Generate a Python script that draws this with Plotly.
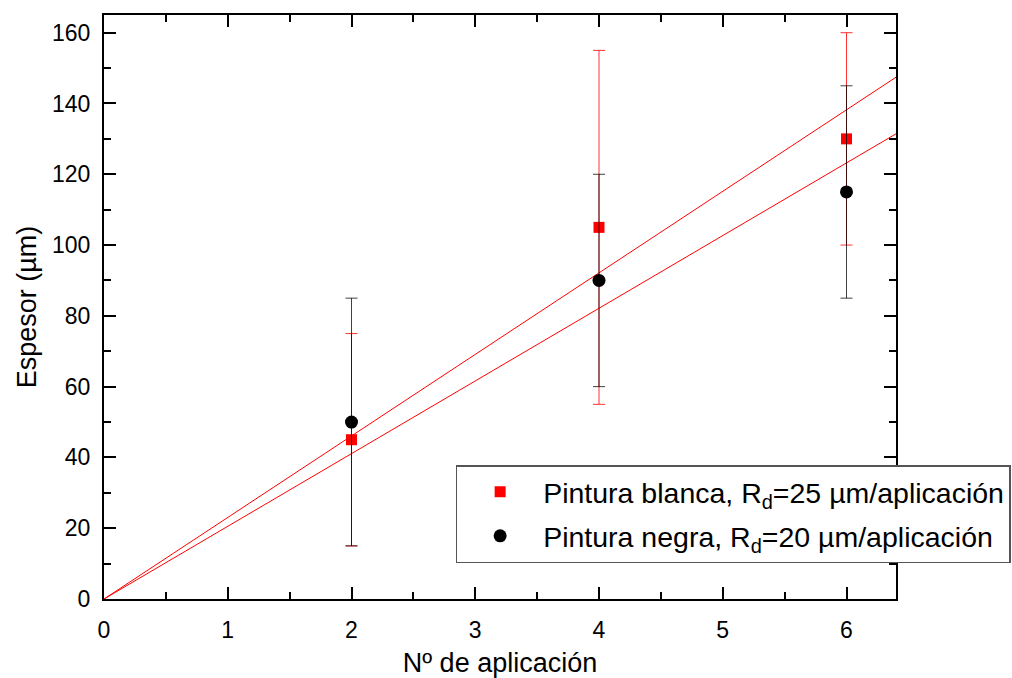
import numpy as np
import plotly.graph_objects as go

aplicaciones = [2, 4, 6]
blanca = [45, 105, 130]
blanca_err = [30, 50, 30]
negra = [50, 90, 115]
negra_err = [35, 30, 30]
x_max = 6.4

xa = np.array(aplicaciones, dtype=float)
def fit_origin(y):
    y = np.array(y, dtype=float)
    return float((xa * y).sum() / (xa * xa).sum())

k_b = fit_origin(blanca)
k_n = fit_origin(negra)
xl = np.array([0.0, x_max])

FONT = "Liberation Sans, Arial"

fig = go.Figure()
fig.add_trace(go.Scatter(x=xl, y=k_b * xl, mode="lines", line=dict(color="red", width=1),
                         showlegend=False, hoverinfo="skip"))
fig.add_trace(go.Scatter(x=xl, y=k_n * xl, mode="lines", line=dict(color="red", width=1),
                         showlegend=False, hoverinfo="skip"))
fig.add_trace(go.Scatter(
    x=aplicaciones, y=blanca, mode="markers",
    marker=dict(symbol="square", color="red", size=11),
    error_y=dict(type="data", array=blanca_err, color="rgba(255,0,0,0.8)", thickness=1, width=6),
    name="Pintura blanca, R<sub>d</sub>=25 µm/aplicación", legendgroup="b"))
fig.add_trace(go.Scatter(
    x=aplicaciones, y=negra, mode="markers",
    marker=dict(symbol="circle", color="black", size=13),
    error_y=dict(type="data", array=negra_err, color="rgba(0,0,0,0.75)", thickness=1, width=6),
    name="Pintura negra, R<sub>d</sub>=20 µm/aplicación", legendgroup="n"))

axis_common = dict(showline=True, linecolor="black", linewidth=2, mirror="allticks",
                   ticks="inside", ticklen=12, tickwidth=2, tickcolor="black",
                   showgrid=False, zeroline=False,
                   tickfont=dict(family=FONT, size=23, color="black"))

fig.update_xaxes(range=[0, x_max], dtick=1, tick0=0, ticklabelstandoff=9,
                 minor=dict(dtick=0.5, ticks="inside", ticklen=7, tickwidth=2, tickcolor="black"),
                 title=dict(text="Nº de aplicación", standoff=12,
                            font=dict(family=FONT, size=27, color="black")),
                 **axis_common)
fig.update_yaxes(range=[0, 165], dtick=20, tick0=0, ticklabelstandoff=7,
                 minor=dict(dtick=10, ticks="inside", ticklen=7, tickwidth=2, tickcolor="black"),
                 title=dict(text="Espesor (µm)", standoff=8,
                            font=dict(family=FONT, size=27, color="black")),
                 **axis_common)

fig.update_layout(
    width=1012, height=678,
    margin=dict(l=104, r=116, t=15, b=79, autoexpand=False),
    plot_bgcolor="white", paper_bgcolor="white",
    font=dict(family=FONT, color="black"),
    legend=dict(x=0.444, y=0.229, xanchor="left", yanchor="top",
                bgcolor="white", bordercolor="#555555", borderwidth=1.5,
                font=dict(family=FONT, size=28.5, color="black"),
                itemwidth=76, tracegroupgap=4, entrywidth=570),
)

fig.write_html("out.html", config={"displayModeBar": False},
               post_script="document.body.style.margin='0';document.body.style.padding='0';")
